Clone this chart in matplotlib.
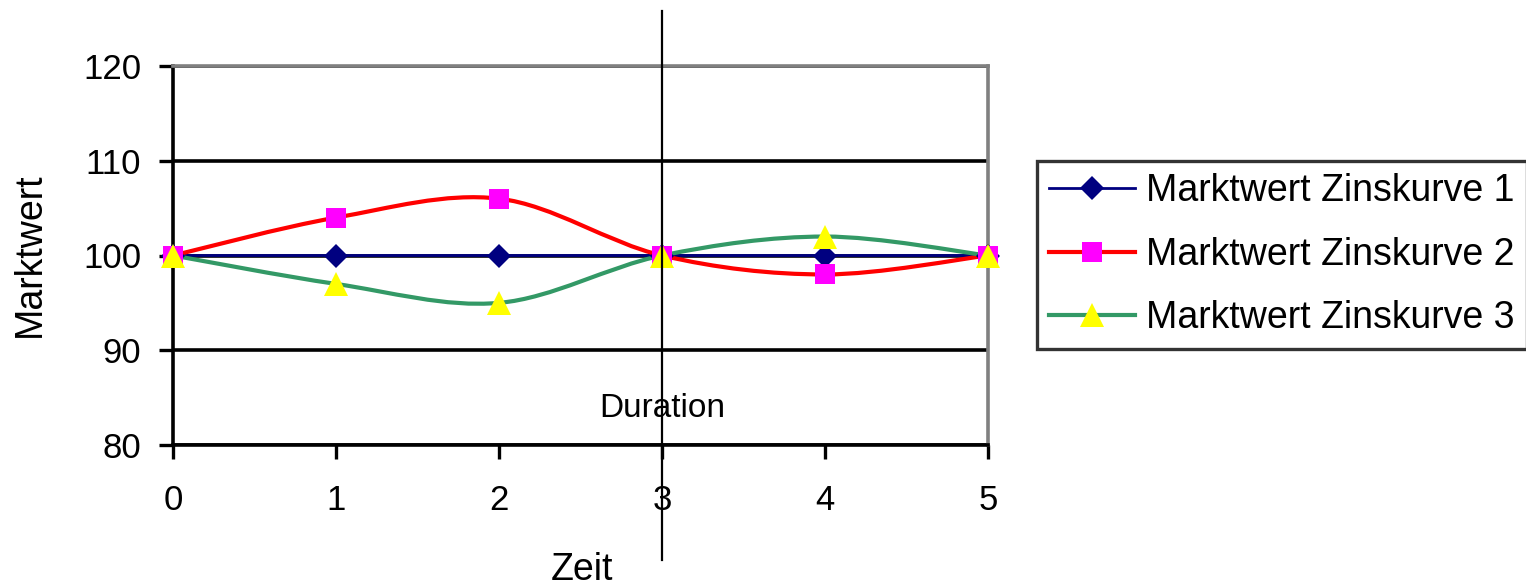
import numpy as np
import matplotlib
matplotlib.use("Agg")
import matplotlib.pyplot as plt
from matplotlib.path import Path
from matplotlib.patches import PathPatch
from matplotlib.lines import Line2D

plt.rcParams["font.family"] = ["Liberation Sans", "DejaVu Sans"]

# ---- data ------------------------------------------------------------------
zeit = [0, 1, 2, 3, 4, 5]
kurve_1 = [100, 100, 100, 100, 100, 100]
kurve_2 = [100, 104, 106, 100, 98, 100]
kurve_3 = [100, 97, 95, 100, 102, 100]
labels = ["Marktwert Zinskurve 1", "Marktwert Zinskurve 2", "Marktwert Zinskurve 3"]
duration = 3
y_ticks = [80, 90, 100, 110, 120]


def smooth_path(xs, ys):
    """Excel-like smoothed line: cubic Bezier segments through the points."""
    pts = np.column_stack([xs, ys]).astype(float)
    n = len(pts)
    verts = [pts[0]]
    codes = [Path.MOVETO]
    for i in range(n - 1):
        p0 = pts[max(i - 1, 0)]; p1 = pts[i]
        p2 = pts[i + 1]; p3 = pts[min(i + 2, n - 1)]
        verts += [p1 + (p2 - p0) / 6, p2 - (p3 - p1) / 6, p2]
        codes += [Path.CURVE4] * 3
    return Path(verts, codes)


W, H = 1526, 585
fig = plt.figure(figsize=(W / 100, H / 100), dpi=100)
ax = fig.add_axes([173 / W, 1 - 445 / H, (988 - 173) / W, (445 - 66) / H])

series = [
    (kurve_1, "#000080", 2.0, dict(marker="D", ms=12, mfc="#000080")),
    (kurve_2, "#FF0000", 3.0, dict(marker="s", ms=14, mfc="#FF00FF")),
    (kurve_3, "#339966", 3.0, dict(marker="^", ms=17, mfc="#FFFF00")),
]
handles = []
for vals, col, lw, mk in series:
    ax.add_patch(PathPatch(smooth_path(zeit, vals), facecolor="none",
                           edgecolor=col, lw=lw, zorder=3))
    ax.plot(zeit, vals, linestyle="none", markeredgewidth=0, zorder=4,
            clip_on=False, **mk)
    handles.append(Line2D([], [], color=col, lw=lw, markeredgewidth=0, **mk))

ax.set_xlim(0, 5)
ax.set_ylim(80, 120)
ax.set_xticks(zeit)
ax.set_yticks(y_ticks)
ax.tick_params(direction="out", length=10, width=2.4, labelsize=25)
ax.tick_params(axis="y", pad=13)
ax.tick_params(axis="x", pad=18)
ax.grid(axis="y", color="black", lw=2.6)
ax.grid(axis="x", visible=False)
ax.set_axisbelow(True)
for s in ["left", "bottom"]:
    ax.spines[s].set_color("black"); ax.spines[s].set_linewidth(2.6)
for s in ["top", "right"]:
    ax.spines[s].set_color("#808080"); ax.spines[s].set_linewidth(2.6)

# duration marker line, running past the plot area (pixel rows 11..560)
y_lo = 80 + (445 - 560) / 379 * 40
y_hi = 80 + (445 - 11) / 379 * 40
ax.plot([duration, duration], [y_lo, y_hi], color="black", lw=1.6,
        clip_on=False, zorder=5)
ax.text(duration, 83.8, "Duration", ha="center", va="center", fontsize=24)

fig.text(30 / W, 1 - 255 / H, "Marktwert", rotation=90, ha="center", va="center",
         fontsize=27)
fig.text(582 / W, 1 - 570 / H, "Zeit", ha="center", va="center", fontsize=27)

leg = fig.legend(handles, labels, loc="upper left",
                 bbox_to_anchor=(1037 / W, 1 - 161 / H), fontsize=27,
                 frameon=True, fancybox=False, edgecolor="black",
                 handlelength=2.3, handletextpad=0.3, labelspacing=0.74,
                 borderpad=0.32, borderaxespad=0)
leg.get_frame().set_linewidth(2.4)

fig.savefig("out.png", dpi=100)
